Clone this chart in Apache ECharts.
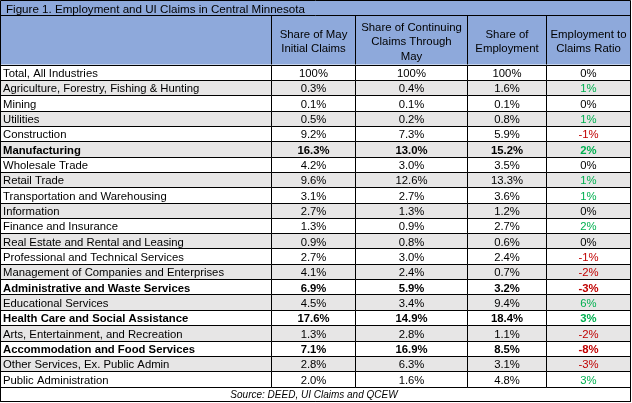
<!DOCTYPE html>
<html>
<head>
<meta charset="utf-8">
<script src="https://cdn.jsdelivr.net/npm/echarts@6/dist/echarts.min.js"></script>
<style>html,body{margin:0;padding:0;background:#fff}#c{width:632px;height:403px}</style>
</head>
<body>
<div id="c"></div>
<script>
const title = 'Figure 1. Employment and UI Claims in Central Minnesota';
const headers = ['', 'Share of May\nInitial Claims', 'Share of Continuing\nClaims Through\nMay', 'Share of\nEmployment', 'Employment to\nClaims Ratio'];
const source = 'Source: DEED, UI Claims and QCEW';
const industries = ['Total, All Industries','Agriculture, Forestry, Fishing & Hunting','Mining','Utilities','Construction','Manufacturing','Wholesale Trade','Retail Trade','Transportation and Warehousing','Information','Finance and Insurance','Real Estate and Rental and Leasing','Professional and Technical Services','Management of Companies and Enterprises','Administrative and Waste Services','Educational Services','Health Care and Social Assistance','Arts, Entertainment, and Recreation','Accommodation and Food Services','Other Services, Ex. Public Admin','Public Administration'];
const boldRows = ['Manufacturing','Administrative and Waste Services','Health Care and Social Assistance','Accommodation and Food Services'];
const initialClaims = [100,0.3,0.1,0.5,9.2,16.3,4.2,9.6,3.1,2.7,1.3,0.9,2.7,4.1,6.9,4.5,17.6,1.3,7.1,2.8,2.0];
const continuingClaims = [100,0.4,0.1,0.2,7.3,13.0,3.0,12.6,2.7,1.3,0.9,0.8,3.0,2.4,5.9,3.4,14.9,2.8,16.9,6.3,1.6];
const employment = [100,1.6,0.1,0.8,5.9,15.2,3.5,13.3,3.6,1.2,2.7,0.6,2.4,0.7,3.2,9.4,18.4,1.1,8.5,3.1,4.8];
const ratio = [0,1,0,1,-1,2,0,1,1,0,2,0,-1,-2,-3,6,3,-2,-8,-3,3];

// layout
const colEdges = [0.5, 271.5, 355.5, 467.5, 546.5, 630.5];
const BLUE = '#8EA9DB', GRAY = '#E7E6E6', GREEN = '#00B050', RED = '#C00000';
const FONT = '"Liberation Sans", Arial, sans-serif';

function fmtShare(v){ return (v === 100 ? '100' : v.toFixed(1)) + '%'; }
const cols = [industries, initialClaims, continuingClaims, employment, ratio];

const cells = [];
industries.forEach((name, r) => { for (let c = 0; c < 5; c++) cells.push([c, r]); });

const chart = echarts.init(document.getElementById('c'), null, {renderer: 'canvas'});

const graphics = [
  {type:'rect', shape:{x:0.5,y:0.5,width:630,height:64}, style:{fill:BLUE, stroke:null}, z:1},
  {type:'line', shape:{x1:0.5,y1:15.5,x2:630.5,y2:15.5}, style:{stroke:'#000',lineWidth:1}, z:2},
  {type:'text', style:{text:title, x:6, y:9.5, verticalAlign:'middle', align:'left', font:'11.6px ' + FONT, fill:'#000'}, z:3}
];
for (let c = 1; c < 5; c++) {
  graphics.push({type:'line', shape:{x1:colEdges[c],y1:15.5,x2:colEdges[c],y2:64.5}, style:{stroke:'#000',lineWidth:1}, z:2});
}
for (let c = 1; c < 5; c++) {
  graphics.push({type:'text', style:{text:headers[c], x:(colEdges[c]+colEdges[c+1])/2, y:42, align:'center', verticalAlign:'middle', lineHeight:14.5, font:'11.4px ' + FONT, fill:'#000'}, z:3});
}
graphics.push({type:'rect', shape:{x:0.5,y:386.5,width:630,height:15}, style:{fill:'#fff', stroke:'#000', lineWidth:1}, z:1});
graphics.push({type:'text', style:{text:source, x:314, y:395, align:'center', verticalAlign:'middle', font:'italic 10px ' + FONT, fill:'#000'}, z:3});
graphics.push({type:'rect', shape:{x:0.5,y:0.5,width:630,height:401}, style:{fill:null, stroke:'#000', lineWidth:1}, z:10});

chart.setOption({
  animation:false,
  backgroundColor:'#fff',
  grid:{left:0, right:0, top:64.5, bottom:16.5},
  xAxis:{type:'value', min:0, max:632, show:false},
  yAxis:{type:'category', data:industries, inverse:true, show:false},
  graphic:graphics,
  series:[{
    type:'custom',
    clip:false,
    data:cells,
    z:5,
    renderItem:function(params, api){
      const c = api.value(0), r = api.value(1);
      const center = api.coord([0, r]);
      const h = api.size([0, 1])[1];
      const xa = api.coord([colEdges[c], r])[0];
      const xb = api.coord([colEdges[c+1], r])[0];
      const y0 = Math.round(center[1] - h/2) + 0.5;
      const y1 = Math.round(center[1] + h/2) + 0.5;
      const bold = boldRows.indexOf(industries[r]) >= 0;
      let text, color = '#000', align = 'center', tx = (xa + xb) / 2;
      if (c === 0) { text = industries[r]; align = 'left'; tx = xa + 2.5; }
      else if (c === 4) {
        const v = ratio[r];
        text = v + '%';
        color = v > 0 ? GREEN : (v < 0 ? RED : '#000');
      } else { text = fmtShare(cols[c][r]); }
      return {type:'group', children:[
        {type:'rect', shape:{x:xa, y:y0, width:xb - xa, height:y1 - y0}, style:{fill: r % 2 ? GRAY : '#fff', stroke:'#000', lineWidth:1}},
        {type:'text', style:{text:text, x:tx, y:(y0 + y1)/2 + 1, align:align, verticalAlign:'middle', font:(bold ? 'bold ' : '') + '11.3px ' + FONT, fill:color}}
      ]};
    }
  }]
});
</script>
</body>
</html>
